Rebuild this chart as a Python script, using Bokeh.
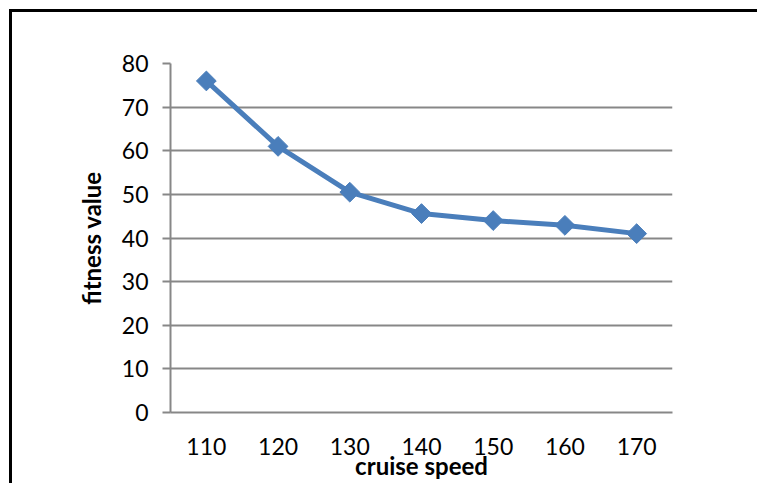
from bokeh.plotting import figure
from bokeh.models import FactorRange, Range1d, FixedTicker
from bokeh.embed import file_html
from bokeh.resources import INLINE

speeds = ["110", "120", "130", "140", "150", "160", "170"]
fitness = [76, 61, 50.5, 45.6, 44, 42.9, 41]
y_ticks = [0, 10, 20, 30, 40, 50, 60, 70, 80]

BLUE = "#4A7EBB"
GRID = "#878787"
FONT = "Lato"

p = figure(width=757, height=483, x_range=FactorRange(*speeds), y_range=Range1d(0, 80),
           output_backend="svg", toolbar_location=None,
           min_border_left=170, min_border_right=85, min_border_top=63, min_border_bottom=71)
p.outline_line_color = None
p.background_fill_color = "white"
p.border_fill_color = None

p.line(speeds, fitness, line_color=BLUE, line_width=5)
p.scatter(speeds, fitness, marker="square", angle=0.7854, size=14,
          fill_color=BLUE, line_color=BLUE)

# y axis
p.yaxis.ticker = FixedTicker(ticks=y_ticks)
p.yaxis.axis_line_color = GRID
p.yaxis.axis_line_width = 2
p.yaxis.major_tick_line_color = GRID
p.yaxis.major_tick_line_width = 2
p.yaxis.major_tick_out = 8
p.yaxis.major_tick_in = 0
p.yaxis.minor_tick_line_color = None
p.yaxis.major_label_text_font = FONT
p.yaxis.major_label_text_font_size = "23px"
p.yaxis.major_label_text_color = "black"
p.yaxis.major_label_standoff = 14
p.yaxis.axis_label = "fitness value"
p.yaxis.axis_label_text_font = FONT
p.yaxis.axis_label_text_font_style = "bold"
p.yaxis.axis_label_text_font_size = "24px"
p.yaxis.axis_label_text_color = "black"
p.yaxis.axis_label_standoff = 13

# x axis
p.xaxis.axis_line_color = GRID
p.xaxis.axis_line_width = 2
p.xaxis.major_tick_line_color = None
p.xaxis.major_tick_out = 0
p.xaxis.major_tick_in = 0
p.xaxis.major_label_text_font = FONT
p.xaxis.major_label_text_font_size = "23px"
p.xaxis.major_label_text_color = "black"
p.xaxis.major_label_standoff = 25
p.xaxis.axis_label = "cruise speed"
p.xaxis.axis_label_text_font = FONT
p.xaxis.axis_label_text_font_style = "bold"
p.xaxis.axis_label_text_font_size = "24px"
p.xaxis.axis_label_text_color = "black"
p.xaxis.axis_label_standoff = -7

p.xgrid.grid_line_color = None
p.ygrid.grid_line_color = GRID
p.ygrid.grid_line_width = 2

# outer chart border (only top and left edges are visible in the reference)
p.styles = {
    "background": ("linear-gradient(#000, #000) 9px 9px / 3px 2000px no-repeat, "
                   "linear-gradient(#000, #000) 9px 9px / 2000px 3px no-repeat, #fff"),
    "overflow": "hidden",
}

open("out.html", "w").write(file_html(p, INLINE))
